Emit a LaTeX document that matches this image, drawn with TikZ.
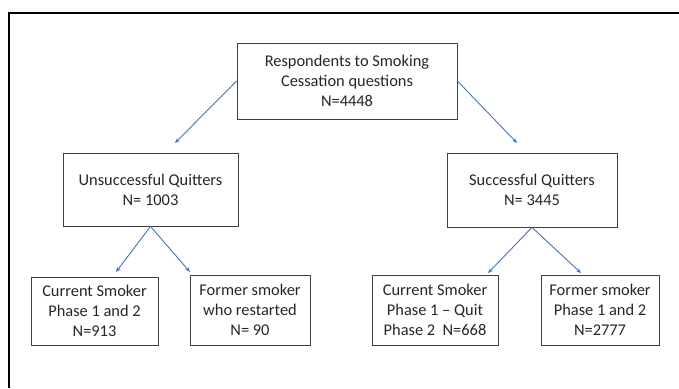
\documentclass[tikz,border=0pt]{standalone}
\usepackage{fontspec}
\setmainfont{Carlito}
\usetikzlibrary{arrows.meta}
\definecolor{arrowblue}{HTML}{4472C4}
\begin{document}
\begin{tikzpicture}[x=1pt,y=-1pt,
 box/.style={draw=black!75, line width=0.8pt, align=center, inner sep=0pt,
   font=\fontsize{16.4}{20}\selectfont, text=black!85},
 arr/.style={draw=arrowblue, line width=0.9pt, -{Stealth[length=5pt,width=4pt]}}]
\useasboundingbox (0,0) rectangle (679,388);
\draw[line width=1.5pt] (9,388) -- (9,13) -- (679,13);
\node[box, minimum width=220pt, minimum height=76pt] (top) at (347,81)
  {Respondents to Smoking\\Cessation questions\\N=4448};
\node[box, minimum width=175pt, minimum height=73pt] (uns) at (150.5,189.5)
  {Unsuccessful Quitters\\N= 1003};
\node[box, minimum width=170pt, minimum height=74pt] (suc) at (532,190)
  {Successful Quitters\\N= 3445};
\node[box, minimum width=127pt, minimum height=68pt] (cs1) at (94.5,311)
  {Current Smoker\\Phase 1 and 2\\N=913};
\node[box, minimum width=120pt, minimum height=70pt] (fs1) at (250,310)
  {Former smoker\\who restarted\\N= 90};
\node[box, minimum width=126pt, minimum height=70pt] (cs2) at (435,310)
  {Current Smoker\\Phase 1 – Quit\\Phase 2~~N=668};
\node[box, minimum width=118pt, minimum height=70pt] (fs2) at (600,310)
  {Former smoker\\Phase 1 and 2\\N=2777};
\coordinate (a1) at (175,143);
\coordinate (a2) at (517,143);
\coordinate (b1) at (116,272);
\coordinate (b2) at (190,272);
\coordinate (c1) at (488,273);
\coordinate (c2) at (581,273);
\draw[arr] (top.west) -- (a1);
\draw[arr] (top.east) -- (a2);
\draw[arr] (uns.south) -- (b1);
\draw[arr] (uns.south) -- (b2);
\draw[arr] (suc.south) -- (c1);
\draw[arr] (suc.south) -- (c2);
\end{tikzpicture}
\end{document}
